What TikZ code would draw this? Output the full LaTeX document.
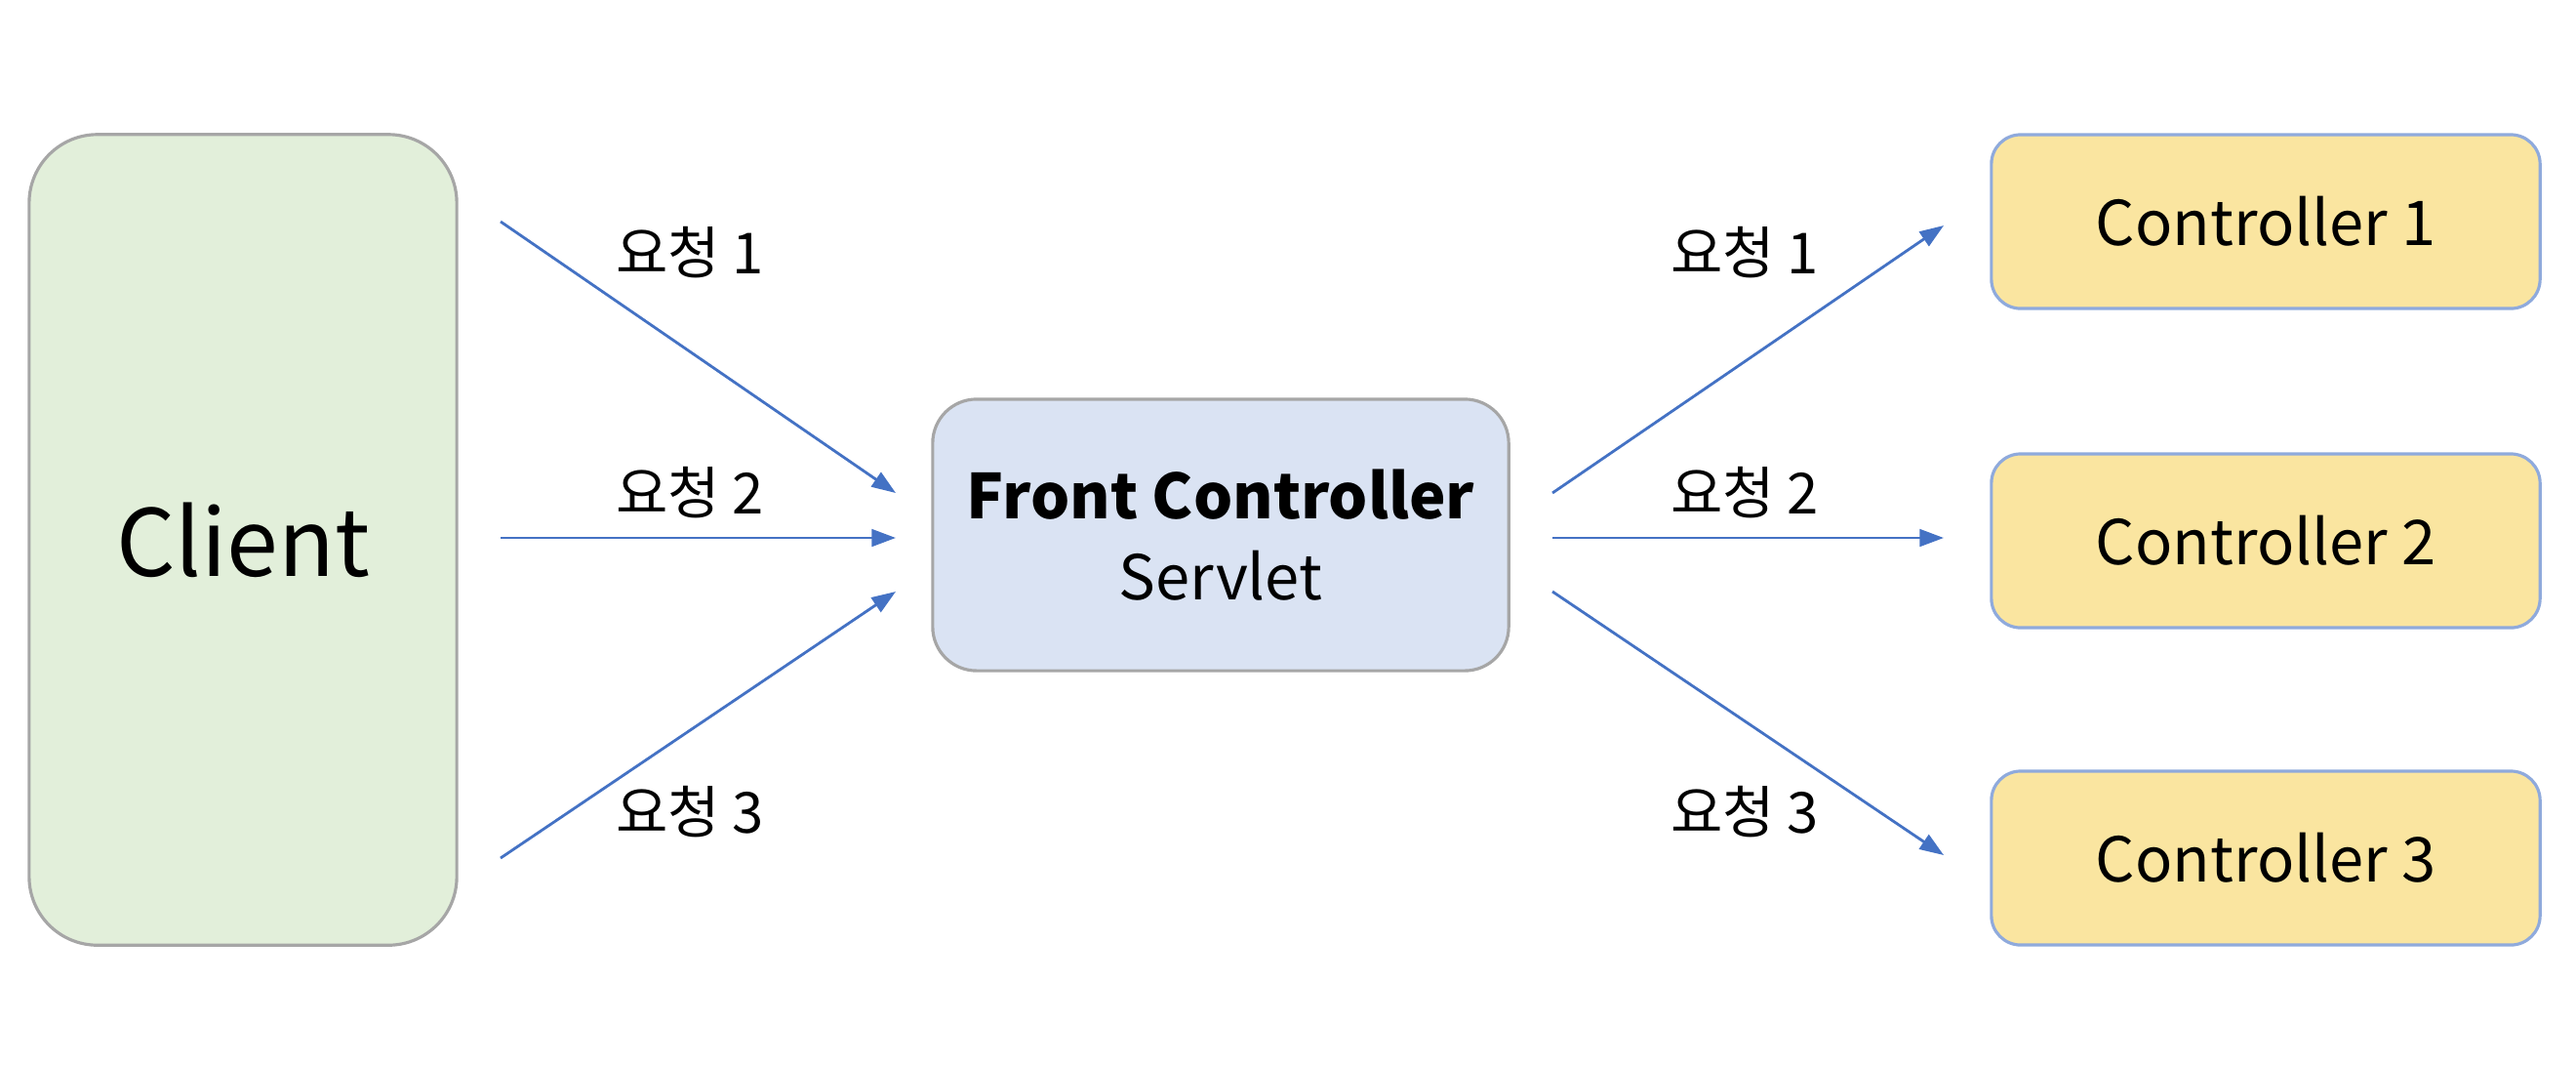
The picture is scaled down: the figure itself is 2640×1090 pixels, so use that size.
\documentclass[tikz,border=0pt]{standalone}
\usepackage{fontspec}
\setmainfont{Noto Sans CJK KR}
\usetikzlibrary{arrows.meta}
\definecolor{clientfill}{HTML}{E2EFDA}
\definecolor{frontfill}{HTML}{DAE3F3}
\definecolor{ctrlfill}{HTML}{FAE5A0}
\definecolor{grayline}{HTML}{A6A6A6}
\definecolor{ctrlline}{HTML}{8FAADC}
\definecolor{arrowblue}{HTML}{4472C4}
\tikzset{
  box/.style={draw, line width=0.9pt, rounded corners=#1, inner sep=0pt},
  clientbox/.style={box=0.7cm, fill=clientfill, draw=grayline, minimum width=4.38cm, minimum height=8.3cm, font=\fontsize{27}{32}\selectfont},
  frontbox/.style={box=0.45cm, fill=frontfill, draw=grayline, minimum width=5.9cm, minimum height=2.78cm, align=center, font=\fontsize{18}{23.5}\selectfont},
  ctrlbox/.style={box=0.3cm, fill=ctrlfill, draw=ctrlline, minimum width=5.62cm, minimum height=1.78cm, font=\fontsize{18}{22}\selectfont},
  req/.style={draw=arrowblue, line width=0.8pt, -{Triangle[length=7pt,width=5pt]}},
  lbl/.style={font=\fontsize{16.5}{20}\selectfont, inner sep=0pt}
}
\begin{document}
\begin{tikzpicture}[x=0.01cm,y=-0.01cm]
\useasboundingbox (0,0) rectangle (2640,1090);
\node[clientbox] (client) at (249,553) {Client};
\node[frontbox] (front) at (1251,548) {\bfseries Front Controller\\Servlet};
\node[ctrlbox] (c1) at (2322,227) {Controller 1};
\node[ctrlbox] (c2) at (2322,554) {Controller 2};
\node[ctrlbox] (c3) at (2322,879) {Controller 3};

\coordinate (l1s) at (513,227);
\coordinate (l1e) at (918,505);
\coordinate (l2s) at (513,551);
\coordinate (l2e) at (918,551);
\coordinate (l3s) at (513,879);
\coordinate (l3e) at (918,606);
\coordinate (r1s) at (1591,505);
\coordinate (r1e) at (1992,231);
\coordinate (r2s) at (1591,551);
\coordinate (r2e) at (1992,551);
\coordinate (r3s) at (1591,606);
\coordinate (r3e) at (1992,876);

\draw[req] (l1s) -- (l1e);
\draw[req] (l2s) -- (l2e);
\draw[req] (l3s) -- (l3e);
\draw[req] (r1s) -- (r1e);
\draw[req] (r2s) -- (r2e);
\draw[req] (r3s) -- (r3e);

\node[lbl] (ll1) at (707,259) {요청 1};
\node[lbl] (ll2) at (707,505) {요청 2};
\node[lbl] (ll3) at (707,832) {요청 3};
\node[lbl] (rl1) at (1788,259) {요청 1};
\node[lbl] (rl2) at (1788,505) {요청 2};
\node[lbl] (rl3) at (1788,832) {요청 3};
\end{tikzpicture}
\end{document}
